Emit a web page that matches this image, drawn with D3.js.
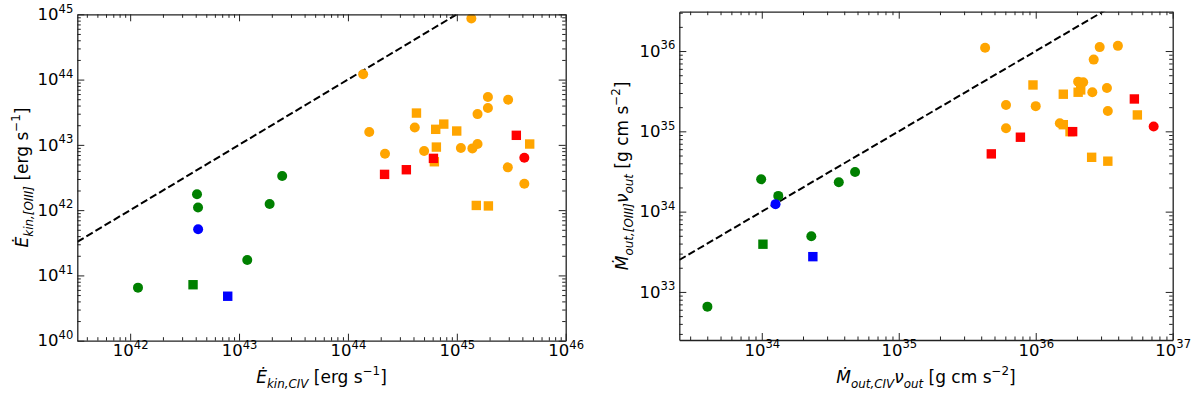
<!DOCTYPE html>
<html>
<head>
<meta charset="utf-8">
<script src="https://cdn.jsdelivr.net/npm/d3@7"></script>
<style>
  body { margin: 0; background: #fff; }
  svg { display: block; font-family: "DejaVu Sans", sans-serif; }
</style>
</head>
<body>
<div id="chart"></div>
<script>
// ---- left panel: kinetic power, CIV vs [OIII] ----
const ekinGreenCircles = [[4.11e42, 1.75e42], [2.49e43, 3.33e42], [4.20e42, 1.10e42], [1.91e43, 1.24e42], [1.19e43, 1.72e41], [1.18e42, 6.5e40]];
const ekinGreenSquares = [[3.78e42, 7.2e40]];
const ekinBlueCircles = [[4.21e42, 5.1e41]];
const ekinBlueSquares = [[7.87e42, 4.8e40]];
const ekinOrangeCircles = [[1.36e45, 8.65e44], [1.38e44, 1.21e44], [1.57e44, 1.57e43], [2.19e44, 7.31e42], [4.11e44, 1.85e43],
  [5.01e44, 8.04e42], [1.09e45, 8.93e42], [1.39e45, 8.83e42], [1.55e45, 1.03e43], [1.55e45, 2.96e43], [1.93e45, 3.66e43],
  [1.93e45, 5.40e43], [2.96e45, 4.91e43], [2.94e45, 4.52e42], [4.17e45, 2.54e42]];
const ekinOrangeSquares = [[4.26e44, 3.07e43], [6.40e44, 1.73e43], [7.59e44, 2.08e43], [6.49e44, 9.25e42], [6.22e44, 5.51e42],
  [9.98e44, 1.63e43], [4.67e45, 1.03e43], [1.51e45, 1.18e42], [1.95e45, 1.16e42]];
const ekinRedCircles = [[4.17e45, 6.34e42]];
const ekinRedSquares = [[2.17e44, 3.53e42], [3.44e44, 4.16e42], [6.10e44, 6.21e42], [3.52e45, 1.40e43]];

// ---- right panel: momentum flux, CIV vs [OIII] ----
const pdotGreenCircles = [[9.9e33, 2.53e34], [1.32e34, 1.57e34], [3.65e34, 2.32e34], [4.80e34, 3.12e34], [2.30e34, 4.94e33], [4.01e33, 6.56e32]];
const pdotGreenSquares = [[1.02e34, 3.93e33]];
const pdotBlueCircles = [[1.26e34, 1.24e34]];
const pdotBlueSquares = [[2.36e34, 2.75e33]];
const pdotOrangeCircles = [[2.79e36, 3.7e36], [4.27e35, 1.10e36], [2.93e36, 1.12e36], [3.98e36, 1.16e36], [2.65e36, 7.82e35],
  [2.04e36, 4.16e35], [2.22e36, 4.08e35], [2.59e36, 3.07e35], [3.31e36, 3.47e35], [6.07e35, 2.13e35], [1.00e36, 2.06e35],
  [3.36e36, 1.79e35], [1.50e36, 1.26e35], [6.07e35, 1.09e35]];
const pdotOrangeSquares = [[9.55e35, 3.78e35], [2.13e36, 3.28e35], [2.04e36, 3.07e35], [1.59e36, 2.90e35], [5.52e36, 1.60e35],
  [1.59e36, 1.21e35], [1.78e36, 9.91e34], [2.56e36, 4.75e34], [3.36e36, 4.25e34]];
const pdotRedCircles = [[7.26e36, 1.15e35]];
const pdotRedSquares = [[5.25e36, 2.53e35], [1.86e36, 9.91e34], [7.73e35, 8.45e34], [4.74e35, 5.24e34]];

// axis ranges (data units)
const ekinXDomain = [3.27e41, 1e46];
const ekinYDomain = [1e40, 1e45];
const pdotXDomain = [2.5e33, 1e37];
const pdotYDomain = [2.52e32, 3.09e36];

// axis labels
const ekinXLabel = [{t: "Ė", i: 1}, {t: "kin,CIV", i: 1, sub: 1}, {t: " [erg s"}, {t: "−1", sup: 1}, {t: "]"}];
const ekinYLabel = [{t: "Ė", i: 1}, {t: "kin,[OIII]", i: 1, sub: 1}, {t: " [erg s"}, {t: "−1", sup: 1}, {t: "]"}];
const pdotXLabel = [{t: "Ṁ", i: 1}, {t: "out,CIV", i: 1, sub: 1}, {t: "ν", i: 1}, {t: "out", i: 1, sub: 1}, {t: " [g cm s"}, {t: "−2", sup: 1}, {t: "]"}];
const pdotYLabel = [{t: "Ṁ", i: 1}, {t: "out,[OIII]", i: 1, sub: 1}, {t: "ν", i: 1}, {t: "out", i: 1, sub: 1}, {t: " [g cm s"}, {t: "−2", sup: 1}, {t: "]"}];

const TICK_FONT = 16.5;
const LABEL_FONT = 17;

const svg = d3.select("#chart").append("svg")
  .attr("width", 1200)
  .attr("height", 396);

// write mathtext-like label as tspans
function richText(sel, parts, size) {
  let off = 0;
  parts.forEach(p => {
    const target = p.sub ? size * 0.3 : p.sup ? -size * 0.45 : 0;
    sel.append("tspan")
      .attr("dy", target - off)
      .attr("font-size", (p.sub || p.sup) ? size * 0.7 : size)
      .attr("font-style", p.i ? "italic" : "normal")
      .text(p.t);
    off = target;
  });
}

function logTicks(domain) {
  const lo = Math.floor(Math.log10(domain[0]));
  const hi = Math.ceil(Math.log10(domain[1]));
  const major = [], minor = [];
  for (let e = lo; e <= hi; e++) {
    const p = Math.pow(10, e);
    if (p >= domain[0] * 0.999 && p <= domain[1] * 1.001) major.push(p);
    for (let k = 2; k <= 9; k++) {
      const v = k * p;
      if (v >= domain[0] && v <= domain[1]) minor.push(v);
    }
  }
  return { major, minor };
}

function powerLabels(g) {
  g.selectAll(".tick text").each(function(d) {
    const t = d3.select(this).text(null);
    t.append("tspan").text("10");
    t.append("tspan").attr("dy", -TICK_FONT * 0.45).attr("font-size", TICK_FONT * 0.7).text(Math.round(Math.log10(d)));
  });
}

function drawPanel(cfg, id) {
  const x = d3.scaleLog().domain(cfg.xDomain).range([cfg.left, cfg.right]);
  const y = d3.scaleLog().domain(cfg.yDomain).range([cfg.bottom, cfg.top]);
  const xt = logTicks(cfg.xDomain), yt = logTicks(cfg.yDomain);

  svg.append("clipPath").attr("id", id)
    .append("rect")
    .attr("x", cfg.left).attr("y", cfg.top)
    .attr("width", cfg.right - cfg.left).attr("height", cfg.bottom - cfg.top);

  const plot = svg.append("g").attr("clip-path", `url(#${id})`);

  // 1:1 line
  const line = d3.line().x(d => x(d)).y(d => y(d));
  plot.append("path")
    .attr("d", line(cfg.xDomain))
    .attr("fill", "none")
    .attr("stroke", "#000")
    .attr("stroke-width", 2)
    .attr("stroke-dasharray", "7.4,3.2");

  // markers
  cfg.groups.forEach(gr => {
    if (gr.shape === "circle") {
      plot.append("g").selectAll("circle")
        .data(gr.data)
        .enter()
        .append("circle")
        .attr("cx", d => x(d[0]))
        .attr("cy", d => y(d[1]))
        .attr("r", 5)
        .attr("fill", gr.color);
    } else {
      const s = 9.4;
      plot.append("g").selectAll("rect")
        .data(gr.data)
        .enter()
        .append("rect")
        .attr("x", d => x(d[0]) - s / 2)
        .attr("y", d => y(d[1]) - s / 2)
        .attr("width", s)
        .attr("height", s)
        .attr("fill", gr.color);
    }
  });

  // axes: all four sides, inward ticks
  const axes = [
    { axis: d3.axisBottom(x), tr: `translate(0,${cfg.bottom})`, ticks: xt, labels: true },
    { axis: d3.axisTop(x), tr: `translate(0,${cfg.top})`, ticks: xt, labels: false },
    { axis: d3.axisLeft(y), tr: `translate(${cfg.left},0)`, ticks: yt, labels: true },
    { axis: d3.axisRight(y), tr: `translate(${cfg.right},0)`, ticks: yt, labels: false }
  ];
  axes.forEach(a => {
    const gMinor = svg.append("g")
      .attr("transform", a.tr)
      .call(a.axis.tickValues(a.ticks.minor).tickSize(-3.5).tickSizeOuter(0).tickFormat(() => ""));
    gMinor.select(".domain").remove();
    const gMajor = svg.append("g")
      .attr("transform", a.tr)
      .call(a.axis.tickValues(a.ticks.major).tickSize(-7).tickSizeOuter(0).tickPadding(4)
        .tickFormat(() => ""));
    if (a.labels) powerLabels(gMajor);
    else gMajor.selectAll(".tick text").remove();
  });
  svg.selectAll(".tick line").attr("stroke", "#222").attr("stroke-width", 1);
  svg.selectAll(".domain").attr("stroke", "#222").attr("stroke-width", 1.3);
  svg.selectAll(".tick text").attr("font-size", TICK_FONT).attr("font-family", "DejaVu Sans").attr("fill", "#000");

  // axis titles
  const xl = svg.append("text")
    .attr("x", (cfg.left + cfg.right) / 2)
    .attr("y", 383)
    .attr("text-anchor", "middle")
    .attr("font-size", LABEL_FONT);
  richText(xl, cfg.xLabel, LABEL_FONT);

  const yl = svg.append("text")
    .attr("transform", `translate(${cfg.yLabelX},${(cfg.top + cfg.bottom) / 2}) rotate(-90)`)
    .attr("text-anchor", "middle")
    .attr("font-size", LABEL_FONT);
  richText(yl, cfg.yLabel, LABEL_FONT);
}

drawPanel({
  left: 77.3, right: 565.7, top: 14.3, bottom: 340.7, yLabelX: 28,
  xDomain: ekinXDomain, yDomain: ekinYDomain, xLabel: ekinXLabel, yLabel: ekinYLabel,
  groups: [
    { data: ekinOrangeCircles, color: "orange", shape: "circle" },
    { data: ekinOrangeSquares, color: "orange", shape: "square" },
    { data: ekinRedCircles, color: "red", shape: "circle" },
    { data: ekinRedSquares, color: "red", shape: "square" },
    { data: ekinGreenCircles, color: "green", shape: "circle" },
    { data: ekinGreenSquares, color: "green", shape: "square" },
    { data: ekinBlueCircles, color: "blue", shape: "circle" },
    { data: ekinBlueSquares, color: "blue", shape: "square" }
  ]
}, "clipL");

drawPanel({
  left: 679.3, right: 1172.7, top: 11.7, bottom: 340, yLabelX: 628,
  xDomain: pdotXDomain, yDomain: pdotYDomain, xLabel: pdotXLabel, yLabel: pdotYLabel,
  groups: [
    { data: pdotOrangeCircles, color: "orange", shape: "circle" },
    { data: pdotOrangeSquares, color: "orange", shape: "square" },
    { data: pdotRedCircles, color: "red", shape: "circle" },
    { data: pdotRedSquares, color: "red", shape: "square" },
    { data: pdotGreenCircles, color: "green", shape: "circle" },
    { data: pdotGreenSquares, color: "green", shape: "square" },
    { data: pdotBlueCircles, color: "blue", shape: "circle" },
    { data: pdotBlueSquares, color: "blue", shape: "square" }
  ]
}, "clipR");
</script>
</body>
</html>
